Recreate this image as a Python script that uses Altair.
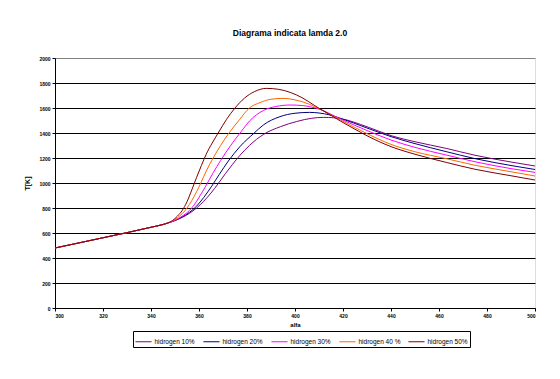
import altair as alt
import pandas as pd

# ---- data ----
series_names = ["hidrogen 10%", "hidrogen 20%", "hidrogen 30%", "hidrogen 40 %", "hidrogen 50%"]
series_colors = ["#800080", "#000080", "#FF00FF", "#FF6600", "#800000"]

common_alfa = [300, 310, 320, 330, 340, 345, 347]
common_T = [480, 521, 562, 603, 646, 668, 680]

h10_alfa = [350, 353, 356, 359, 362, 365, 368, 371, 374, 377, 381, 387, 394, 400.7, 407, 412, 416, 419, 430, 440, 450, 463, 475, 490, 500]
h10_T = [700, 725, 757, 800, 855, 920, 995, 1075, 1150, 1220, 1300, 1390, 1451, 1492, 1518, 1525, 1522, 1515, 1450, 1379, 1330, 1277, 1222, 1168, 1136]

h20_alfa = [350, 353, 356, 359, 362, 365.3, 368.5, 372.2, 377, 383, 386.8, 393.75, 400, 406, 410, 414.6, 419, 430, 440, 450, 463, 475, 490, 500]
h20_T = [700, 728, 765, 815, 885, 975, 1070, 1175, 1290, 1400, 1464, 1531, 1558, 1565, 1560, 1544, 1517, 1440, 1371, 1315, 1251, 1195, 1140, 1108]

h30_alfa = [350, 353, 356, 358, 360, 362.8, 366, 369, 373, 377.5, 381.25, 386.8, 392, 398, 403, 407, 410.4, 419, 430, 440, 450, 463, 475, 490, 500]
h30_T = [702, 735, 780, 825, 885, 975, 1085, 1180, 1295, 1410, 1500, 1580, 1612, 1624, 1620, 1607, 1589, 1512, 1420, 1344, 1285, 1224, 1170, 1115, 1085]

h40_alfa = [349, 351, 353, 355, 357, 359, 361, 363, 365.6, 369, 372.5, 377, 381, 385.4, 390, 395, 400, 406, 410, 419, 430, 440, 450, 463, 475, 490, 500]
h40_T = [697, 722, 755, 800, 860, 930, 1010, 1095, 1190, 1300, 1400, 1510, 1600, 1643, 1670, 1677, 1665, 1630, 1594, 1504, 1395, 1309, 1250, 1195, 1142, 1090, 1056]

h50_alfa = [349, 351, 353, 355, 357, 359, 361, 363, 365.5, 368, 371.5, 375, 379, 383, 388, 393, 398, 403, 408, 410, 414, 419, 425, 430, 440, 450, 463, 475, 490, 500]
h50_T = [700, 735, 780, 850, 945, 1045, 1140, 1230, 1320, 1400, 1510, 1600, 1680, 1730, 1757, 1750, 1725, 1682, 1622, 1598, 1553, 1495, 1430, 1378, 1291, 1230, 1165, 1110, 1058, 1024]

x_ticks = [300, 320, 340, 360, 380, 400, 420, 440, 460, 480, 500]
y_ticks = [0, 200, 400, 600, 800, 1000, 1200, 1400, 1600, 1800, 2000]

rows = []
for name, xs, ys in zip(series_names,
                        [h10_alfa, h20_alfa, h30_alfa, h40_alfa, h50_alfa],
                        [h10_T, h20_T, h30_T, h40_T, h50_T]):
    for a, t in zip(common_alfa + xs, common_T + ys):
        rows.append({"serie": name, "alfa": a, "T": t})
df = pd.DataFrame(rows)

FONT = "Liberation Sans"

chart = alt.Chart(df).mark_line(interpolate="monotone").encode(
    x=alt.X("alfa:Q",
            scale=alt.Scale(domain=[300, 500], nice=False, zero=False),
            axis=alt.Axis(values=x_ticks, title="alfa", grid=False, format="d",
                          labelFont=FONT, labelFontSize=5, labelFontWeight="bold",
                          labelColor="black", tickColor="black", tickSize=3,
                          domainColor="black", labelPadding=2,
                          titleFont=FONT, titleFontSize=6, titleFontWeight="bold",
                          titleColor="black", titlePadding=3)),
    y=alt.Y("T:Q",
            scale=alt.Scale(domain=[0, 2000], nice=False),
            axis=alt.Axis(values=y_ticks, title="T[K]", grid=True, format="d",
                          gridColor={"condition": {"test": "datum.value == 2000", "value": "#808080"}, "value": "black"},
                          gridOpacity=1, gridWidth=1,
                          labelFont=FONT, labelFontSize=5, labelFontWeight="bold",
                          labelColor="black", tickColor="black", tickSize=3,
                          domainColor="black", labelPadding=2,
                          titleFont=FONT, titleFontSize=7, titleFontWeight="bold",
                          titleColor="black", titlePadding=8)),
    color=alt.Color("serie:N",
                    scale=alt.Scale(domain=series_names, range=series_colors),
                    legend=alt.Legend(title=None, orient="none", legendX=78, legendY=273,
                                      direction="horizontal", columns=5,
                                      symbolType="stroke", symbolSize=260, symbolStrokeWidth=1.3,
                                      labelFont=FONT, labelFontSize=6.5, labelColor="black",
                                      strokeColor="black", padding=1.5, columnPadding=5,
                                      labelOffset=2)),
    strokeWidth=alt.StrokeWidth("serie:N",
                                scale=alt.Scale(domain=series_names, range=[1, 1, 1, 1.8, 1]),
                                legend=None),
).properties(
    width=480,
    height=250,
    title=alt.TitleParams("Diagrama indicata lamda 2.0", font=FONT, fontSize=8.5,
                          fontWeight="bold", color="black", offset=19, anchor="middle", dx=-5),
    autosize=alt.AutoSizeParams(type="none"),
    padding={"left": 47, "top": 50, "right": 17, "bottom": 63},
).configure_view(
    stroke="#808080", strokeWidth=1
).configure(background="white")

chart.save("out.html", embed_options={"renderer": "svg", "actions": False})
